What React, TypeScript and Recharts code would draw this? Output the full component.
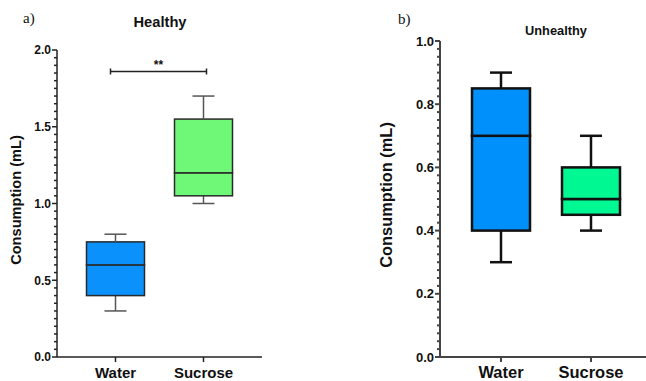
import React from 'react';
import { ComposedChart, Bar, XAxis, YAxis, ReferenceLine } from 'recharts';

const CATEGORIES = ['Water', 'Sucrose'];

// Healthy group (panel a)
const HEALTHY_MIN = [0.3, 1.0];
const HEALTHY_Q1 = [0.4, 1.05];
const HEALTHY_MEDIAN = [0.6, 1.2];
const HEALTHY_Q3 = [0.75, 1.55];
const HEALTHY_MAX = [0.8, 1.7];
const HEALTHY_SIG_Y = 1.86;
const HEALTHY_SIG_LABEL = '**';

// Unhealthy group (panel b)
const UNHEALTHY_MIN = [0.3, 0.4];
const UNHEALTHY_Q1 = [0.4, 0.45];
const UNHEALTHY_MEDIAN = [0.7, 0.5];
const UNHEALTHY_Q3 = [0.85, 0.6];
const UNHEALTHY_MAX = [0.9, 0.7];

const HEALTHY_MAJOR_TICKS = [0, 0.5, 1.0, 1.5, 2.0];
const UNHEALTHY_MAJOR_TICKS = [0, 0.2, 0.4, 0.6, 0.8, 1.0];

const FONT = '"Liberation Sans", Arial, Helvetica, sans-serif';

const buildRows = (mins, q1s, meds, q3s, maxs) =>
  CATEGORIES.map((name, i) => ({
    name,
    base: mins[i],
    lowWhisker: q1s[i] - mins[i],
    lowBox: meds[i] - q1s[i],
    highBox: q3s[i] - meds[i],
    highWhisker: maxs[i] - q3s[i],
  }));

const minorTicks = (majors, perMajor) => {
  const out = [];
  const step = (majors[1] - majors[0]) / perMajor;
  const top = majors[majors.length - 1];
  for (let k = 0; k * step <= top + 1e-9; k++) out.push(+(k * step).toFixed(4));
  return out;
};

const healthyRows = buildRows(HEALTHY_MIN, HEALTHY_Q1, HEALTHY_MEDIAN, HEALTHY_Q3, HEALTHY_MAX);
const unhealthyRows = buildRows(UNHEALTHY_MIN, UNHEALTHY_Q1, UNHEALTHY_MEDIAN, UNHEALTHY_Q3, UNHEALTHY_MAX);

const makeYTick = (majors, fontSize, stroke, sw) => (props) => {
  const { x, y, payload } = props;
  const v = payload.value;
  const isMajor = majors.some((m) => Math.abs(m - v) < 1e-6);
  return (
    <g>
      <line x1={x - (isMajor ? 5 : 3)} x2={x} y1={y} y2={y} stroke={stroke} strokeWidth={sw} />
      {isMajor && (
        <text x={x - 6} y={y} dy="0.36em" textAnchor="end" fontFamily={FONT} fontWeight="bold" fontSize={fontSize} fill="#111">
          {v.toFixed(1)}
        </text>
      )}
    </g>
  );
};

const makeXTick = (fontSize, stroke, sw) => (props) => {
  const { x, y, payload } = props;
  return (
    <g>
      <line x1={x} x2={x} y1={y} y2={y + 5} stroke={stroke} strokeWidth={sw} />
      <text x={x} y={y + 21} textAnchor="middle" fontFamily={FONT} fontWeight="bold" fontSize={fontSize} fill="#111">
        {payload.value}
      </text>
    </g>
  );
};

const whisker = (end, stroke, sw) => (props) => {
  const { x, y, width, height } = props;
  const cx = x + width / 2;
  const capY = end === 'top' ? y : y + height;
  return (
    <g>
      <line x1={cx} x2={cx} y1={y} y2={y + height} stroke={stroke} strokeWidth={sw} />
      <line x1={cx - 11} x2={cx + 11} y1={capY} y2={capY} stroke={stroke} strokeWidth={sw} />
    </g>
  );
};

const box = (colors, stroke, sw) => (props) => {
  const { x, y, width, height, index } = props;
  return <rect x={x} y={y} width={width} height={height} fill={colors[index]} stroke={stroke} strokeWidth={sw} />;
};

const sigBracket = (props) => {
  const { x1, y1, x2 } = props;
  const a = x1 - 5;
  const b = x2 + 3;
  return (
    <g>
      <line x1={a} x2={b} y1={y1} y2={y1} stroke="#222" strokeWidth={1.5} />
      <line x1={a} x2={a} y1={y1 - 3} y2={y1 + 3} stroke="#222" strokeWidth={1.5} />
      <line x1={b} x2={b} y1={y1 - 3} y2={y1 + 3} stroke="#222" strokeWidth={1.5} />
      <text x={(a + b) / 2} y={y1 - 2} textAnchor="middle" fontFamily={FONT} fontWeight="bold" fontSize={12} fill="#111">
        {HEALTHY_SIG_LABEL}
      </text>
    </g>
  );
};

const PLOT_BOTTOM = 357;

function BoxPanel({ rows, width, height, margin, yWidth, domain, majors, perMajor, padding, colors, stroke, whiskerStroke, sw, tickFont, xFont, axisStroke, axisSw, children }) {
  return (
    <ComposedChart width={width} height={height} data={rows} margin={margin}>
      <XAxis
        dataKey="name"
        height={height - PLOT_BOTTOM}
        padding={padding}
        axisLine={{ stroke: axisStroke, strokeWidth: axisSw }}
        tickLine={false}
        tickSize={0}
        tickMargin={0}
        tick={makeXTick(xFont, axisStroke, axisSw)}
        interval={0}
      />
      <YAxis
        type="number"
        domain={domain}
        ticks={minorTicks(majors, perMajor)}
        interval={0}
        width={yWidth}
        axisLine={{ stroke: axisStroke, strokeWidth: axisSw }}
        tickLine={false}
        tickSize={0}
        tickMargin={0}
        tick={makeYTick(majors, tickFont, axisStroke, axisSw)}
        allowDecimals
      />
      <Bar dataKey="base" stackId="b" fill="transparent" shape={() => null} barSize={58} isAnimationActive={false} />
      <Bar dataKey="lowWhisker" stackId="b" shape={whisker('bottom', whiskerStroke, sw)} barSize={58} isAnimationActive={false} />
      <Bar dataKey="lowBox" stackId="b" shape={box(colors, stroke, sw)} barSize={58} isAnimationActive={false} />
      <Bar dataKey="highBox" stackId="b" shape={box(colors, stroke, sw)} barSize={58} isAnimationActive={false} />
      <Bar dataKey="highWhisker" stackId="b" shape={whisker('top', whiskerStroke, sw)} barSize={58} isAnimationActive={false} />
      {children}
    </ComposedChart>
  );
}

export default function App() {
  return (
    <div style={{ position: 'absolute', left: 0, top: 0, width: 646, height: 381, background: '#fff', overflow: 'hidden' }}>
      <div style={{ position: 'absolute', left: 0, top: 0 }}>
        <BoxPanel
          rows={healthyRows}
          width={320}
          height={381}
          margin={{ top: 50, right: 58, bottom: 0, left: 0 }}
          yWidth={57}
          domain={[0, 2]}
          majors={HEALTHY_MAJOR_TICKS}
          perMajor={10}
          padding={{ left: 14.5, right: 14.5 }}
          colors={['#0a91fb', '#6ff777']}
          stroke="#2a2a2a"
          whiskerStroke="#555"
          sw={1.5}
          tickFont={12}
          xFont={15}
          axisStroke="#222"
          axisSw={1.5}
        >
          <ReferenceLine
            segment={[{ x: CATEGORIES[0], y: HEALTHY_SIG_Y }, { x: CATEGORIES[1], y: HEALTHY_SIG_Y }]}
            shape={sigBracket}
            ifOverflow="visible"
          />
        </BoxPanel>
      </div>
      <div style={{ position: 'absolute', left: 320, top: 0 }}>
        <BoxPanel
          rows={unhealthyRows}
          width={326}
          height={381}
          margin={{ top: 41, right: 0, bottom: 0, left: 0 }}
          yWidth={120}
          domain={[0, 1]}
          majors={UNHEALTHY_MAJOR_TICKS}
          perMajor={8}
          padding={{ left: 16, right: 10 }}
          colors={['#0090fb', '#00f892']}
          stroke="#111"
          whiskerStroke="#111"
          sw={2.5}
          tickFont={13}
          xFont={16.5}
          axisStroke="#444"
          axisSw={2}
        />
      </div>
      <svg width={646} height={381} style={{ position: 'absolute', left: 0, top: 0, pointerEvents: 'none' }}>
        <text x={23} y={23} fontFamily='"Liberation Serif", "Times New Roman", serif' fontSize={15} fill="#111">a)</text>
        <text x={398} y={24} fontFamily='"Liberation Serif", "Times New Roman", serif' fontSize={15} fill="#111">b)</text>
        <text x={160} y={27} textAnchor="middle" fontFamily={FONT} fontWeight="bold" fontSize={14.7} fill="#111">Healthy</text>
        <text x={556} y={35} textAnchor="middle" fontFamily={FONT} fontWeight="bold" fontSize={12.8} fill="#111">Unhealthy</text>
        <text transform="translate(21,200) rotate(-90)" textAnchor="middle" fontFamily={FONT} fontWeight="bold" fontSize={14.6} fill="#111">Consumption (mL)</text>
        <text transform="translate(392,195) rotate(-90)" textAnchor="middle" fontFamily={FONT} fontWeight="bold" fontSize={16.4} fill="#111">Consumption (mL)</text>
      </svg>
    </div>
  );
}
